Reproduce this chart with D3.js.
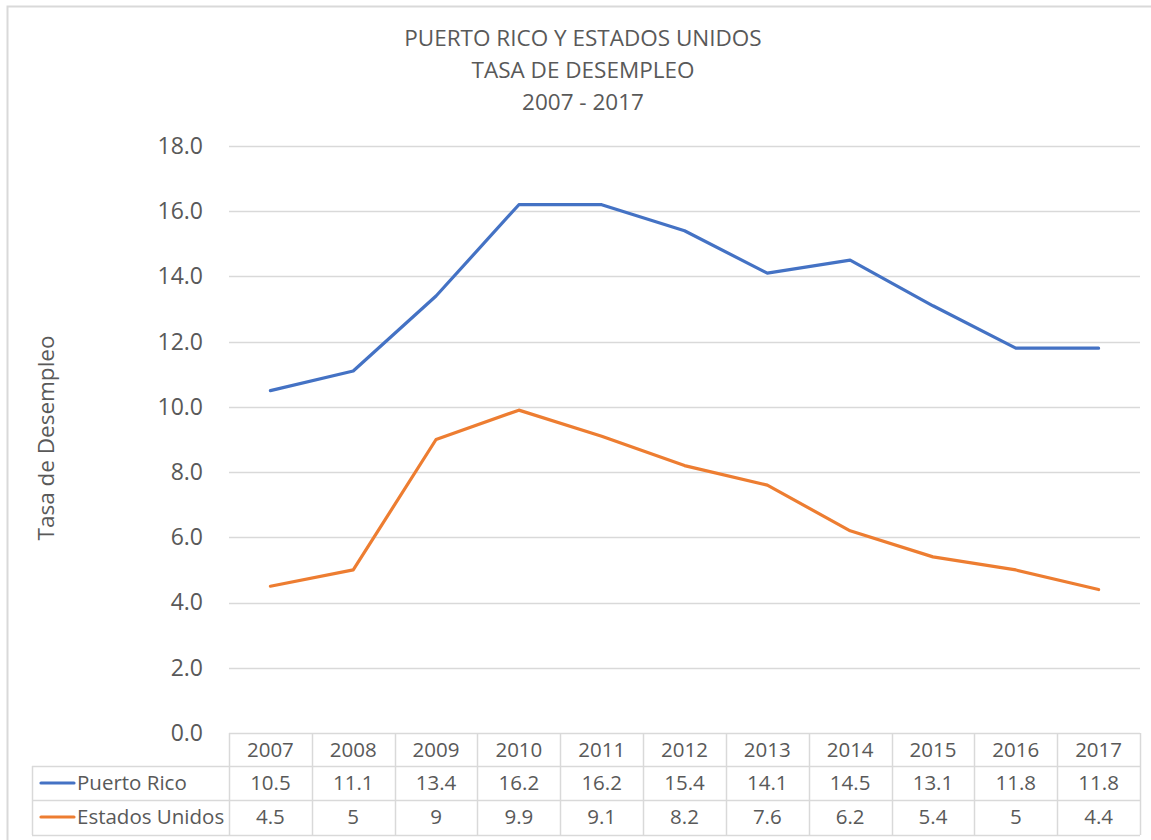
<!DOCTYPE html>
<html lang="es">
<head>
  <meta charset="UTF-8">
  <title>Tasa de Desempleo</title>
  <script src="https://d3js.org/d3.v7.min.js"></script>
  <style>
    body, html {
      margin: 0;
      padding: 0;
      background: #fff;
      overflow: hidden;
    }
    svg {
      display: block;
      font-family: "Open Sans", "Noto Sans", sans-serif;
    }
  </style>
</head>
<body>
  <svg id="chart" width="1151" height="840"></svg>
  <script>
    const years = ["2007", "2008", "2009", "2010", "2011", "2012", "2013", "2014", "2015", "2016", "2017"];
    const puertoRico = [10.5, 11.1, 13.4, 16.2, 16.2, 15.4, 14.1, 14.5, 13.1, 11.8, 11.8];
    const estadosUnidos = [4.5, 5, 9, 9.9, 9.1, 8.2, 7.6, 6.2, 5.4, 5, 4.4];
    const yTicks = [0, 2, 4, 6, 8, 10, 12, 14, 16, 18];
    const titleLines = ["PUERTO RICO Y ESTADOS UNIDOS", "TASA DE DESEMPLEO", "2007 - 2017"];

    const series = [
      { name: "Puerto Rico", values: puertoRico, color: "#4472C4" },
      { name: "Estados Unidos", values: estadosUnidos, color: "#ED7D31" }
    ];

    const svg = d3.select("#chart");
    const textColor = "#595959";
    const gridColor = "#d9d9d9";

    // outer chart border (runs off right/bottom like the screenshot)
    svg.append("rect")
      .attr("x", 7.5).attr("y", 6.5)
      .attr("width", 1160).attr("height", 850)
      .attr("fill", "none")
      .attr("stroke", gridColor)
      .attr("stroke-width", 2);

    // title
    svg.append("g")
      .selectAll("text")
      .data(titleLines)
      .join("text")
      .attr("x", 583)
      .attr("y", (d, i) => 46 + i * 32)
      .attr("text-anchor", "middle")
      .attr("fill", textColor)
      .attr("font-size", 22.5)
      .text(d => d);

    const plotLeft = 229, plotRight = 1140, plotTop = 146, plotBottom = 733;

    const x = d3.scaleBand().domain(years).range([plotLeft, plotRight]);
    const y = d3.scaleLinear().domain([0, 18]).range([plotBottom, plotTop]);

    // gridlines
    svg.append("g")
      .selectAll("line")
      .data(yTicks.filter(d => d > 0))
      .join("line")
      .attr("x1", plotLeft).attr("x2", plotRight)
      .attr("y1", d => Math.round(y(d)) + 0.5)
      .attr("y2", d => Math.round(y(d)) + 0.5)
      .attr("stroke", gridColor)
      .attr("stroke-width", 1.3);

    // y axis labels
    const yAxis = svg.append("g")
      .attr("transform", `translate(${plotLeft},0)`)
      .call(d3.axisLeft(y).tickValues(yTicks).tickFormat(d3.format(".1f")).tickSize(0).tickPadding(26));
    yAxis.select(".domain").remove();
    yAxis.selectAll("text")
      .attr("fill", textColor)
      .attr("font-size", 23)
      .attr("font-family", "\"Open Sans\", sans-serif");

    // y axis title
    svg.append("text")
      .attr("transform", "translate(54,438) rotate(-90)")
      .attr("text-anchor", "middle")
      .attr("fill", textColor)
      .attr("font-size", 22.5)
      .text("Tasa de Desempleo");

    // lines
    const line = d3.line()
      .x((d, i) => x(years[i]) + x.bandwidth() / 2)
      .y(d => y(d));

    svg.append("g")
      .selectAll("path")
      .data(series)
      .join("path")
      .attr("d", d => line(d.values))
      .attr("fill", "none")
      .attr("stroke", d => d.color)
      .attr("stroke-width", 3.2)
      .attr("stroke-linejoin", "round")
      .attr("stroke-linecap", "round");

    // data table
    const rowH = 34;
    const tableLeft = 32;
    const table = svg.append("g");
    const borderColor = "#d9d9d9";
    const cellFont = 20.5;

    // horizontal lines
    const rowsY = [plotBottom, plotBottom + 33, plotBottom + 33 + rowH, plotBottom + 33 + 2 * rowH + 1];
    rowsY.forEach((yy, i) => {
      table.append("line")
        .attr("x1", i === 0 ? plotLeft : tableLeft).attr("x2", plotRight)
        .attr("y1", yy + 0.5).attr("y2", yy + 0.5)
        .attr("stroke", borderColor).attr("stroke-width", 1.5);
    });
    // vertical lines
    table.append("line")
      .attr("x1", tableLeft + 0.5).attr("x2", tableLeft + 0.5)
      .attr("y1", rowsY[1]).attr("y2", rowsY[3])
      .attr("stroke", borderColor).attr("stroke-width", 1.5);
    const colEdges = years.map(d => x(d)).concat([plotRight]);
    table.selectAll("line.col")
      .data(colEdges)
      .join("line")
      .attr("class", "col")
      .attr("x1", d => Math.round(d) + 0.5).attr("x2", d => Math.round(d) + 0.5)
      .attr("y1", rowsY[0]).attr("y2", rowsY[3])
      .attr("stroke", borderColor).attr("stroke-width", 1.5);

    // header years
    table.selectAll("text.year")
      .data(years)
      .join("text")
      .attr("class", "year")
      .attr("x", d => x(d) + x.bandwidth() / 2)
      .attr("y", rowsY[0] + 24)
      .attr("text-anchor", "middle")
      .attr("fill", textColor)
      .attr("font-size", cellFont)
      .text(d => d);

    // series rows
    series.forEach((s, r) => {
      const cy = rowsY[r + 1] + rowH / 2;
      table.append("line")
        .attr("x1", 41).attr("x2", 74)
        .attr("y1", cy).attr("y2", cy)
        .attr("stroke", s.color)
        .attr("stroke-width", 3.2)
        .attr("stroke-linecap", "round");
      table.append("text")
        .attr("x", 77)
        .attr("y", cy + 7)
        .attr("fill", textColor)
        .attr("font-size", cellFont)
        .text(s.name);
      table.selectAll(null)
        .data(s.values)
        .join("text")
        .attr("x", (d, i) => x(years[i]) + x.bandwidth() / 2)
        .attr("y", cy + 7)
        .attr("text-anchor", "middle")
        .attr("fill", textColor)
        .attr("font-size", cellFont)
        .text(d => d);
    });
  </script>
</body>
</html>
